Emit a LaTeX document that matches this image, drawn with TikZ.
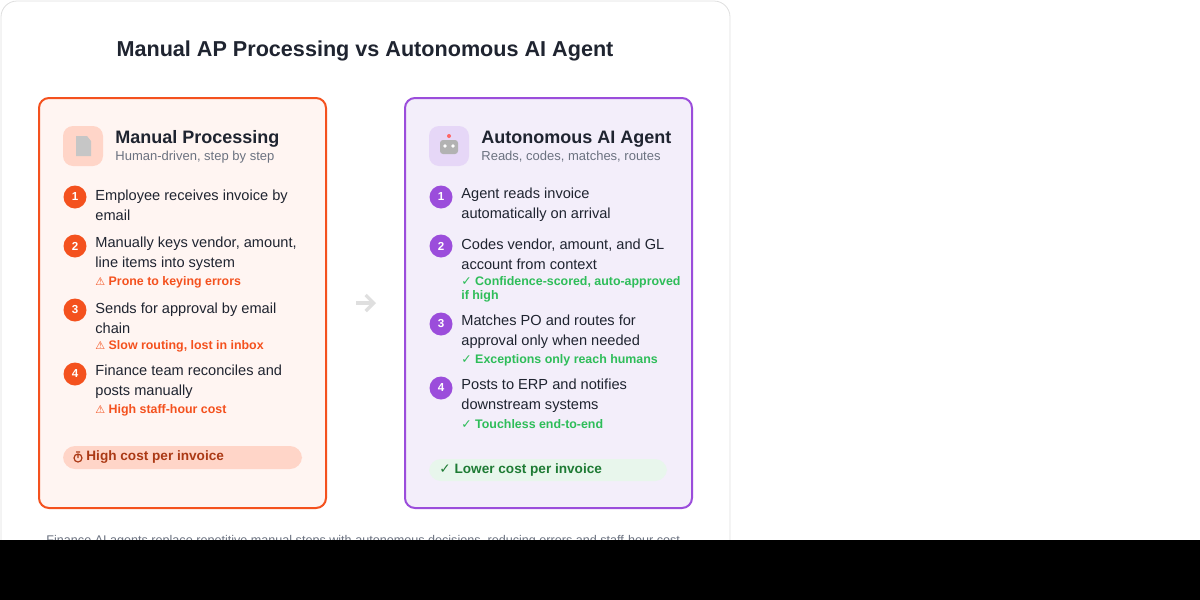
\documentclass[tikz,border=0pt]{standalone}
\usepackage{fontspec}
\setmainfont{Liberation Sans}
\newfontfamily\symf{DejaVu Sans}
\usetikzlibrary{arrows.meta}
\definecolor{ink}{HTML}{1F2430}
\definecolor{mute}{HTML}{6B7280}
\definecolor{orng}{HTML}{F4511E}
\definecolor{orngbg}{HTML}{FFF5F2}
\definecolor{orngpill}{HTML}{FFD5C8}
\definecolor{prpl}{HTML}{9B4DDB}
\definecolor{prplbg}{HTML}{F3EEFA}
\definecolor{prplpill}{HTML}{E6D7F7}
\definecolor{grn}{HTML}{2EBD59}
\definecolor{grnbg}{HTML}{E8F6EC}
\definecolor{grndk}{HTML}{1E7B34}
\tikzset{
  stepline/.style={anchor=west, text=ink, font=\fontsize{7.3}{10}\selectfont, align=left, inner sep=0pt},
  note/.style={anchor=west, font=\fontsize{6.2}{7}\selectfont\bfseries, align=left, inner sep=0pt},
  num/.style={circle, minimum size=11.5pt, inner sep=0pt, text=white, font=\fontsize{5.8}{6}\selectfont\bfseries}
}
\begin{document}
\begin{tikzpicture}[x=0.5pt, y=-0.5pt]
  \useasboundingbox (0,0) rectangle (1200,600);
  \draw[gray!25, fill=white, rounded corners=8pt] (1,1) rectangle (730,580);
  \node (title) at (365,51) {\fontsize{10.8}{12}\selectfont\bfseries\color{ink} Manual AP Processing vs Autonomous AI Agent};
  % manual side
  \draw[orng, line width=1pt, fill=orngbg, rounded corners=5pt] (39,98) rectangle (326,508);
  \fill[orngpill, rounded corners=5pt] (63,126) rectangle (103,166);
  \fill[gray!45] (76,136) -- (87,136) -- (91,141) -- (91,156) -- (76,156) -- cycle;
  \node[anchor=west, inner sep=0pt, text=ink] (mhead) at (115,139) {\fontsize{9}{10}\selectfont\bfseries Manual Processing};
  \node[anchor=west, inner sep=0pt, text=mute] (msub) at (115,157) {\fontsize{6.5}{7}\selectfont Human-driven, step by step};
  \node[num, fill=orng] (m1) at (75,197) {1};
  \node[stepline] at (95,205) {Employee receives invoice by\\email};
  \node[num, fill=orng] (m2) at (75,246) {2};
  \node[stepline] at (95,254) {Manually keys vendor, amount,\\line items into system};
  \node[note, text=orng] at (95,282) {{\symf\fontsize{5.5}{6}\selectfont ⚠} Prone to keying errors};
  \node[num, fill=orng] (m3) at (75,310) {3};
  \node[stepline] at (95,318) {Sends for approval by email\\chain};
  \node[note, text=orng] at (95,346) {{\symf\fontsize{5.5}{6}\selectfont ⚠} Slow routing, lost in inbox};
  \node[num, fill=orng] (m4) at (75,374) {4};
  \node[stepline] at (95,382) {Finance team reconciles and\\posts manually};
  \node[note, text=orng] at (95,410) {{\symf\fontsize{5.5}{6}\selectfont ⚠} High staff-hour cost};
  \fill[orngpill, rounded corners=6pt] (63,446) rectangle (302,469);
  % stopwatch
  \draw[orng!70!black, line width=0.6pt] (78,458) circle (4) (78,454) -- (78,458) (76,452) -- (80,452);
  \node[note, text=orng!70!black, font=\fontsize{6.8}{8}\selectfont\bfseries] (mcost) at (86,457) {High cost per invoice};
  % arrow
  \coordinate (aL) at (356,303);
  \coordinate (aR) at (376,303);
  \draw[gray!25, line width=1.6pt, -{Straight Barb[length=4pt]}] (aL) -- (aR);
  % agent side
  \draw[prpl, line width=1pt, fill=prplbg, rounded corners=5pt] (405,98) rectangle (692,508);
  \fill[prplpill, rounded corners=5pt] (429,126) rectangle (469,166);
  \fill[gray!60, rounded corners=1.5pt] (440,140) rectangle (458,154);
  \fill[red!60] (449,136) circle (2);
  \fill[white] (445,146) circle (1.8) (453,146) circle (1.8);
  \node[anchor=west, inner sep=0pt, text=ink] (ahead) at (481,139) {\fontsize{9}{10}\selectfont\bfseries Autonomous AI Agent};
  \node[anchor=west, inner sep=0pt, text=mute] (asub) at (481,157) {\fontsize{6.5}{7}\selectfont Reads, codes, matches, routes};
  \node[num, fill=prpl] (a1) at (441,197) {1};
  \node[stepline] at (461,205) {Agent reads invoice\\automatically on arrival};
  \node[num, fill=prpl] (a2) at (441,246) {2};
  \node[stepline] at (461,254) {Codes vendor, amount, and GL\\account from context};
  \node[note, text=grn, font=\fontsize{6.2}{7}\selectfont\bfseries] at (461,289) {{\symf ✓} Confidence-scored, auto-approved\\if high};
  \node[num, fill=prpl] (a3) at (441,324) {3};
  \node[stepline] at (461,332) {Matches PO and routes for\\approval only when needed};
  \node[note, text=grn] at (461,360) {{\symf ✓} Exceptions only reach humans};
  \node[num, fill=prpl] (a4) at (441,388) {4};
  \node[stepline] at (461,396) {Posts to ERP and notifies\\downstream systems};
  \node[note, text=grn] at (461,424) {{\symf ✓} Touchless end-to-end};
  \fill[grnbg, rounded corners=6pt] (429,459) rectangle (667,481);
  \node[note, text=grndk, font=\fontsize{6.8}{8}\selectfont\bfseries] (acost) at (439,470) {{\symf ✓} Lower cost per invoice};
  % footer
  \node[text=mute, font=\fontsize{6.3}{7}\selectfont] (foot) at (365,541) {Finance AI agents replace repetitive manual steps with autonomous decisions, reducing errors and staff-hour cost.};
  \fill[black] (0,540) rectangle (1200,600);
\end{tikzpicture}
\end{document}
